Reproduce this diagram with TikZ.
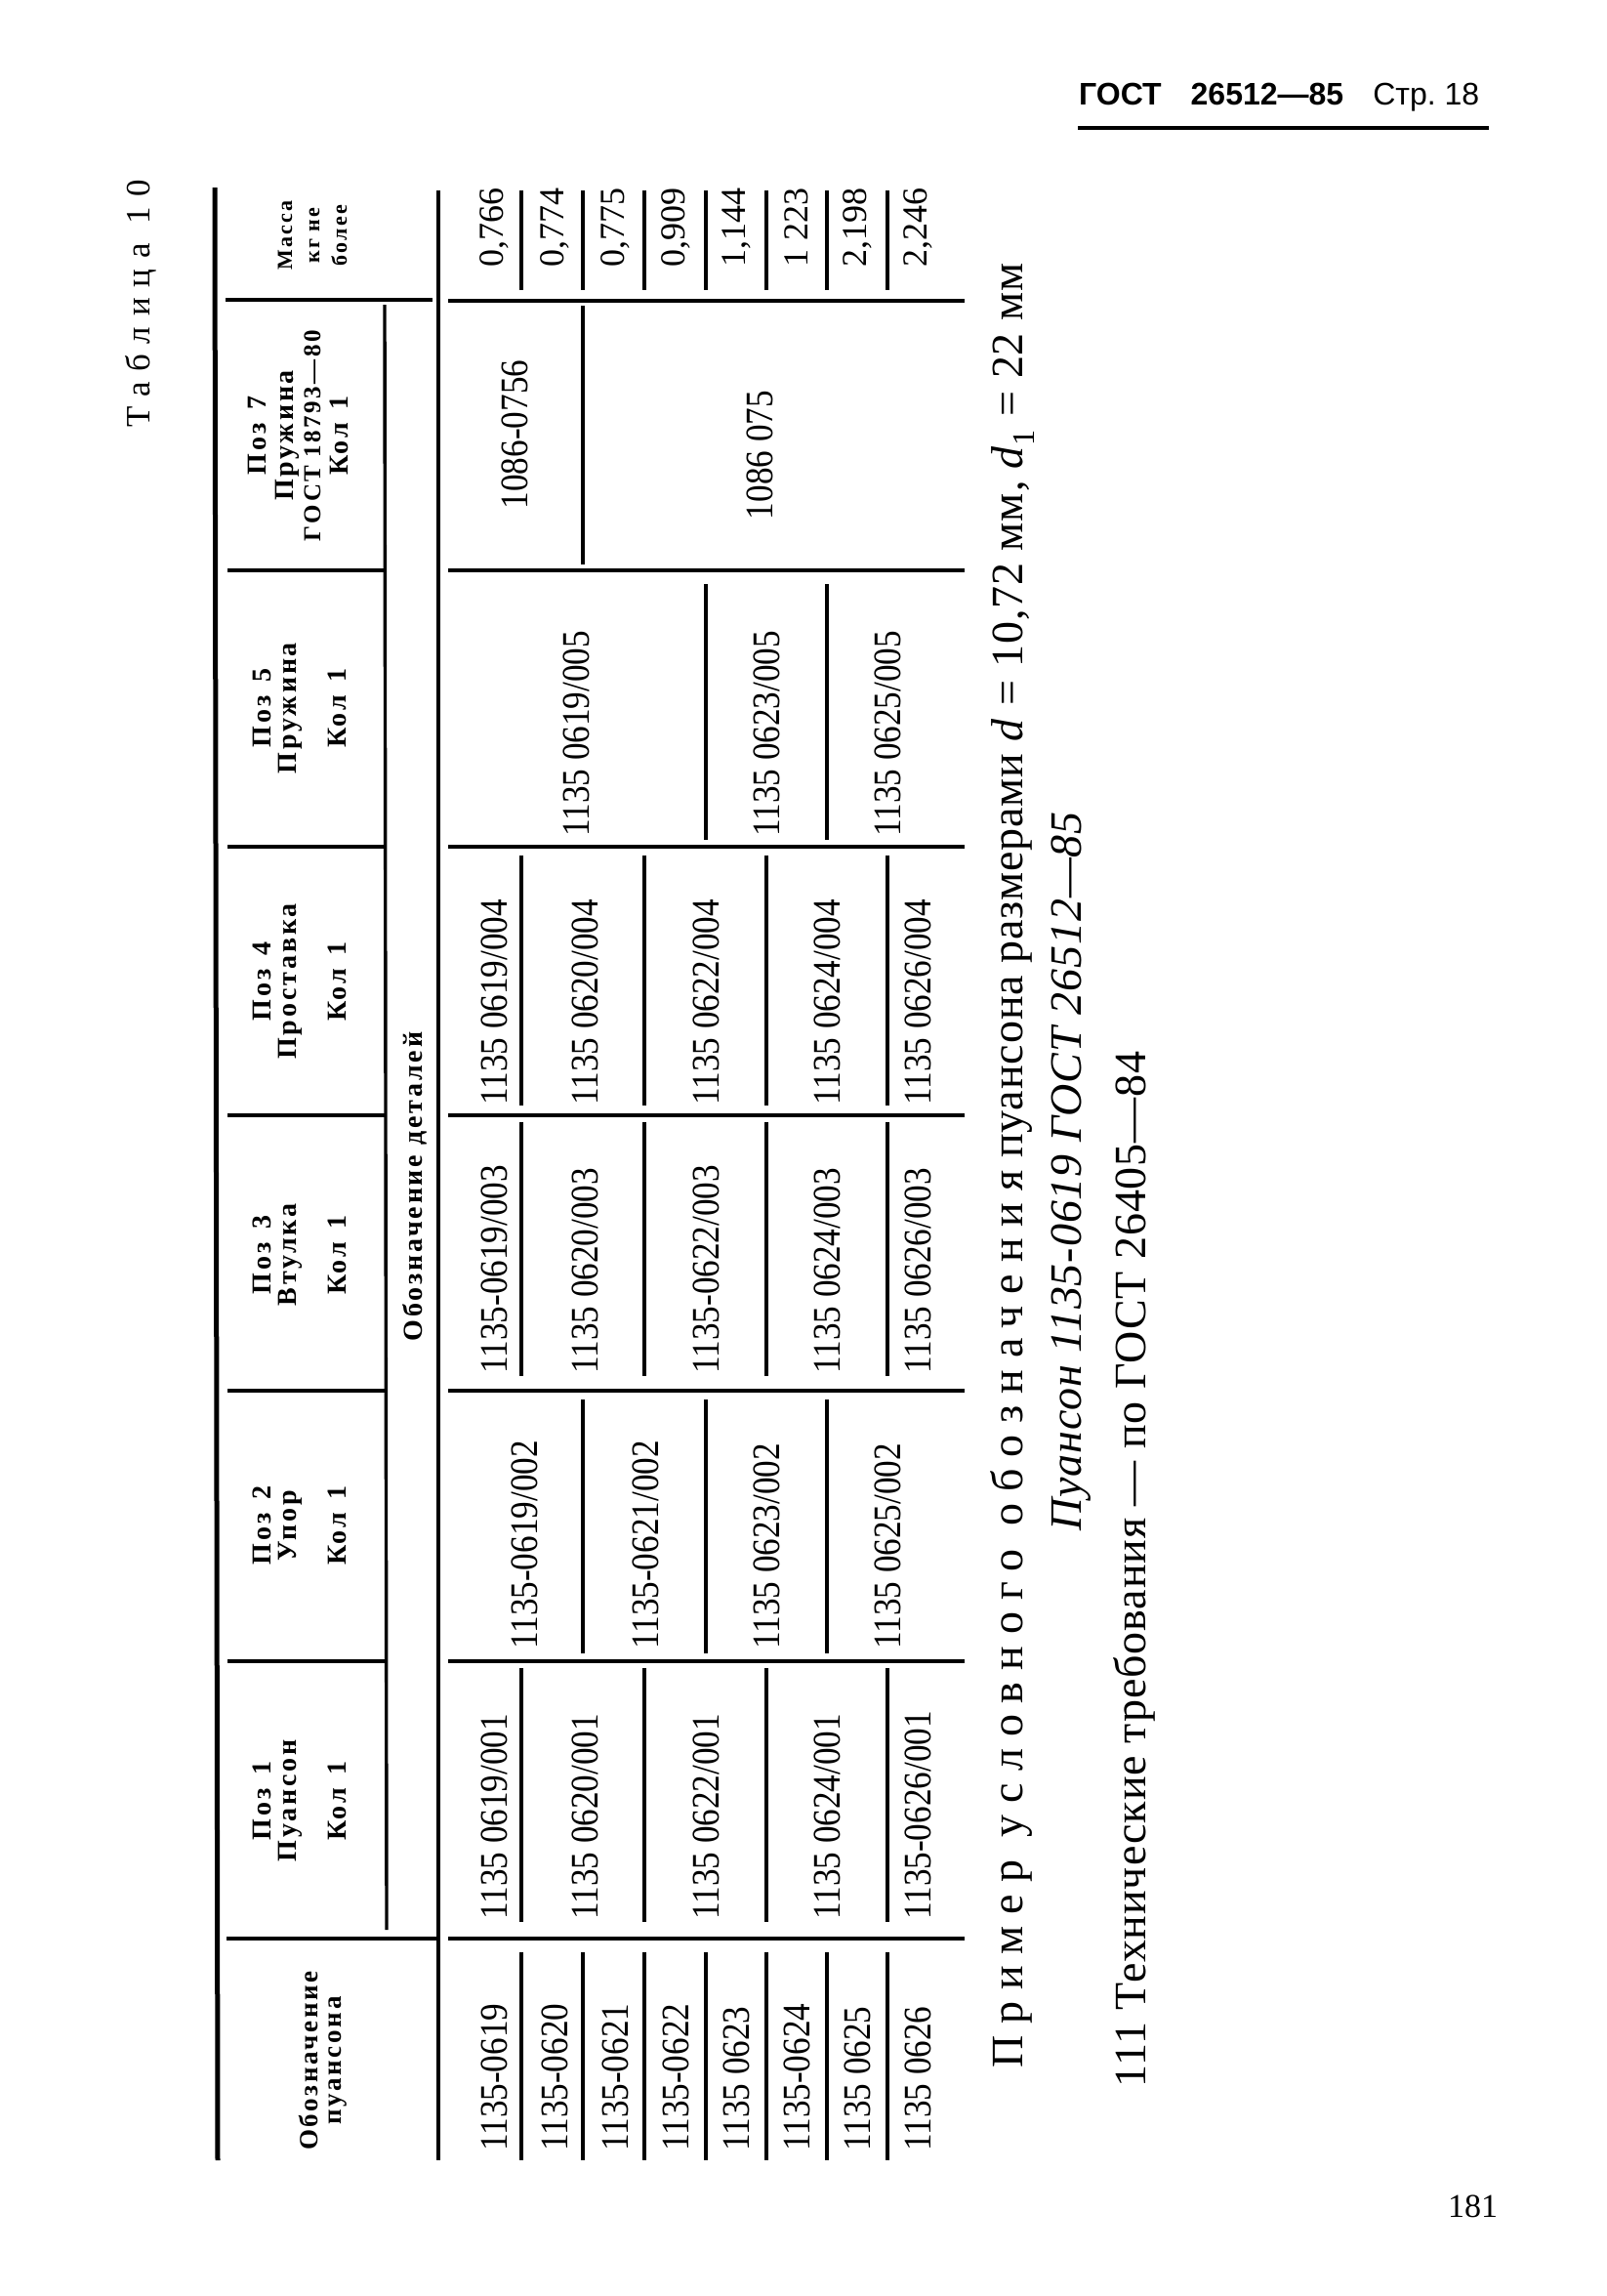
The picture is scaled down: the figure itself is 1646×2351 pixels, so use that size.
\documentclass[tikz,border=0pt]{standalone}
\usepackage{fontspec}
\setmainfont{Liberation Serif}
\newfontfamily\datafont[FakeStretch=0.88]{Liberation Serif}
\newfontfamily\headfont[LetterSpace=10]{Liberation Serif}
\newfontfamily\notefont[LetterSpace=2]{Liberation Serif}
\newfontfamily\spacedfont[LetterSpace=26]{Liberation Serif}
\newfontfamily\tabfont[LetterSpace=31]{Liberation Serif}
\newfontfamily\gostfont{Liberation Sans}
\usepackage{tikz}
\tikzstyle{cell}=[rotate=90, anchor=west, inner sep=0pt, font=\datafont\fontsize{40}{44}\selectfont]
\tikzstyle{mass}=[rotate=90, inner sep=0pt, font=\fontsize{36}{40}\selectfont]
\tikzstyle{head}=[rotate=90, inner sep=0pt, align=center, font=\headfont\bfseries\fontsize{28}{26}\selectfont]
\tikzstyle{note}=[rotate=90, anchor=base west, inner sep=0pt, font=\notefont\fontsize{46}{50}\selectfont]
\tikzstyle{rule}=[line width=3.4pt]
\tikzstyle{thickrule}=[line width=5pt]

\begin{document}
\begin{tikzpicture}[x=1pt, y=-1pt]

      \useasboundingbox (0,0) rectangle (1646,2351);
      \fill[white] (0,0) rectangle (1646,2351);

      % page head
      \node[anchor=base west, inner sep=0pt, font=\gostfont\fontsize{32}{36}\selectfont] (gost) at (1105,107) {\textbf{ГОСТ}\hspace{30pt}\textbf{26512—85}\hspace{30pt}Стр.~18};
      \draw[line width=4pt] (1104,131) -- (1525,131);
      \node[rotate=90, anchor=base west, inner sep=0pt, font=\tabfont\fontsize{35}{40}\selectfont] (cap) at (153,438) {Таблица 10};

      % table frame
      \draw[thickrule] (220,192) -- (223,2212);
      \draw[rule] (449,195) -- (449,2212);
      \draw[rule] (394,312) -- (396,1976);
      \draw[rule] (231,307) -- (443,307);
      \foreach \y in {584,867,1142,1424,1701} \draw[rule] (233,\y) -- (394,\y);
      \draw[rule] (232,1985) -- (447,1985);
      \foreach \y in {308,584,867,1142,1424,1701,1985} \draw[rule] (459,\y) -- (988,\y);

      % row lines
      \foreach \x in {534,597,660,723,785,847,909} {
        \draw[rule] (\x,195) -- (\x,297);
        \draw[rule] (\x,1999) -- (\x,2212);
      }
      \draw[rule] (597,313) -- (597,578);
      \foreach \x in {723,847} \draw[rule] (\x,598) -- (\x,860);
      \foreach \x in {534,660,785,909} {
        \draw[rule] (\x,876) -- (\x,1132);
        \draw[rule] (\x,1149) -- (\x,1409);
        \draw[rule] (\x,1708) -- (\x,1968);
      }
      \foreach \x in {597,723,847} \draw[rule] (\x,1433) -- (\x,1693);

      % head cells
      \node[head, font=\headfont\bfseries\fontsize{22}{28}\selectfont] (hm) at (320,241) {Масса\\кг не\\более};
      \node[head, font=\headfont\bfseries\fontsize{28}{28}\selectfont] (h7) at (305,446) {Поз\enspace 7\\Пружина\\{\fontsize{25}{28}\selectfont ГОСТ 18793—80}\\Кол\enspace 1};
      \node[head] (h5) at (307,725) {Поз\enspace 5\\Пружина\\[25pt]Кол\enspace 1};
      \node[head] (h4) at (307,1005) {Поз\enspace 4\\Проставка\\[25pt]Кол\enspace 1};
      \node[head] (h3) at (307,1285) {Поз\enspace 3\\Втулка\\[25pt]Кол\enspace 1};
      \node[head] (h2) at (307,1562) {Поз\enspace 2\\Упор\\[25pt]Кол\enspace 1};
      \node[head] (h1) at (307,1844) {Поз\enspace 1\\Пуансон\\[25pt]Кол\enspace 1};
      \node[head, font=\headfont\bfseries\fontsize{27}{24}\selectfont] (h0) at (331,2110) {Обозначение\\пуансона};
      \node[head] (hd) at (425,1215) {Обозначение деталей};

      % designations
      \node[cell] (n1) at (506,2203) {1135-0619};
      \node[cell] (n2) at (568,2203) {1135-0620};
      \node[cell] (n3) at (630,2203) {1135-0621};
      \node[cell] (n4) at (692,2203) {1135-0622};
      \node[cell] (n5) at (754,2203) {1135 0623};
      \node[cell] (n6) at (816,2203) {1135-0624};
      \node[cell] (n7) at (878,2203) {1135 0625};
      \node[cell] (n8) at (940,2203) {1135 0626};

      \node[cell] (a1) at (506,1966) {1135 0619/001};
      \node[cell] (a2) at (599,1966) {1135 0620/001};
      \node[cell] (a3) at (723,1966) {1135 0622/001};
      \node[cell] (a4) at (847,1966) {1135 0624/001};
      \node[cell] (a5) at (940,1966) {1135-0626/001};

      \node[cell] (b1) at (537,1689) {1135-0619/002};
      \node[cell] (b2) at (661,1689) {1135-0621/002};
      \node[cell] (b3) at (785,1689) {1135 0623/002};
      \node[cell] (b4) at (909,1689) {1135 0625/002};

      \node[cell] (c1) at (506,1407) {1135-0619/003};
      \node[cell] (c2) at (599,1407) {1135 0620/003};
      \node[cell] (c3) at (723,1407) {1135-0622/003};
      \node[cell] (c4) at (847,1407) {1135 0624/003};
      \node[cell] (c5) at (940,1407) {1135 0626/003};

      \node[cell] (d1) at (506,1132) {1135 0619/004};
      \node[cell] (d2) at (599,1132) {1135 0620/004};
      \node[cell] (d3) at (723,1132) {1135 0622/004};
      \node[cell] (d4) at (847,1132) {1135 0624/004};
      \node[cell] (d5) at (940,1132) {1135 0626/004};

      \node[cell] (e1) at (590,857) {1135 0619/005};
      \node[cell] (e2) at (785,857) {1135 0623/005};
      \node[cell] (e3) at (909,857) {1135 0625/005};

      \node[cell, anchor=center] (f1) at (527,445) {1086-0756};
      \node[cell, anchor=center] (f2) at (778,466) {1086 075};

      \node[mass] (m1) at (506,233) {0,766};
      \node[mass] (m2) at (568,233) {0,774};
      \node[mass] (m3) at (630,233) {0,775};
      \node[mass] (m4) at (692,233) {0,909};
      \node[mass] (m5) at (754,233) {1,144};
      \node[mass] (m6) at (816,233) {1 223};
      \node[mass] (m7) at (878,233) {2,198};
      \node[mass] (m8) at (940,233) {2,246};

      % text under the table
      \node[note] (ex) at (1047,2118) {{\spacedfont Пример условного обозначения} пуансона размерами \textit{d}\;=\;10,72 мм, \textit{d}\textsubscript{1}\;=\;22 мм};
      \node[note, font=\notefont\itshape\fontsize{46}{50}\selectfont] (ex2) at (1107,1568) {Пуансон 1135-0619 ГОСТ 26512—85};
      \node[note] (req) at (1173,2138) {111 Технические требования — по ГОСТ 26405—84};
      \node[anchor=base west, inner sep=0pt, font=\fontsize{34}{36}\selectfont] (pg) at (1483,2270) {181};

    \end{tikzpicture}
\end{document}
